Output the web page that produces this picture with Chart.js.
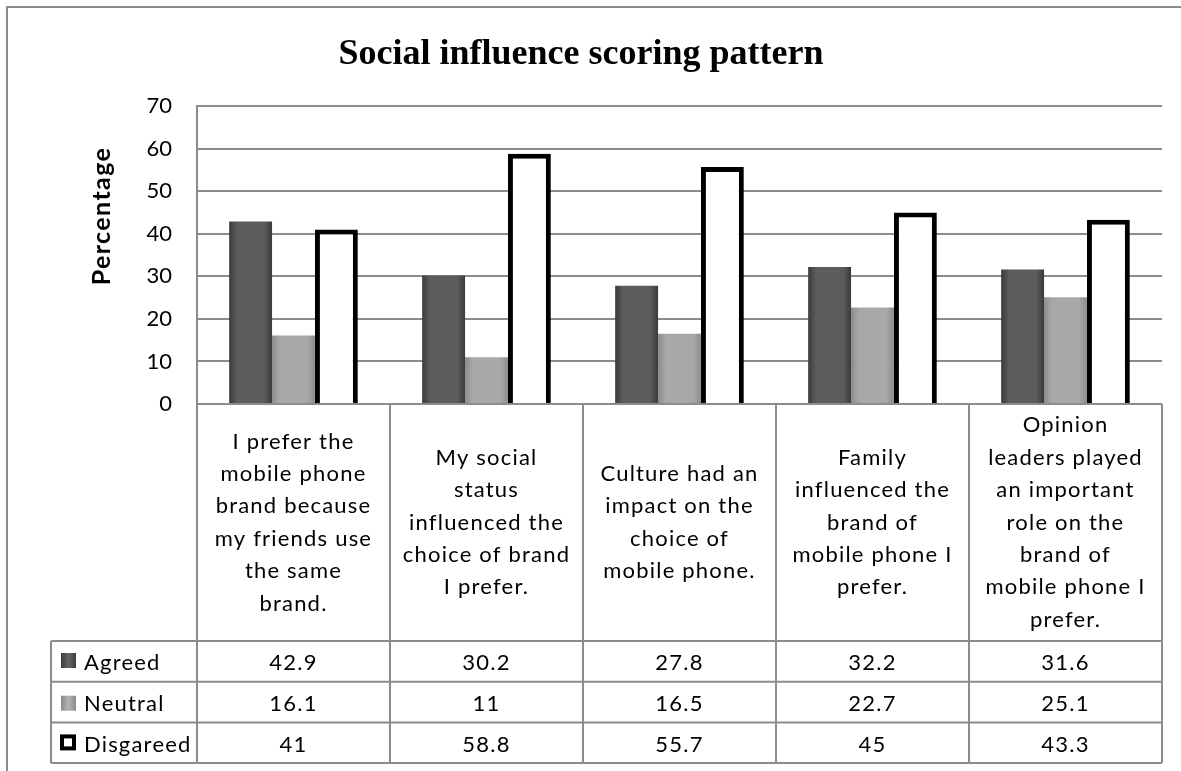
<!DOCTYPE html>
<html>
<head>
<meta charset="utf-8">
<script src="https://cdn.jsdelivr.net/npm/chart.js@4.4.0/dist/chart.umd.min.js"></script>
<style>
    html, body { margin: 0; padding: 0; background: #fff; }
    #chart-wrap { width: 1181px; height: 771px; }
</style>
</head>
<body>
<div id="chart-wrap"><canvas id="social-chart"></canvas></div>
<script>
// categories, already broken into the lines shown in the table header
const categories = [
    ['I prefer the', 'mobile phone', 'brand because', 'my friends use', 'the same', 'brand.'],
    ['My social', 'status', 'influenced the', 'choice of brand', 'I prefer.'],
    ['Culture had an', 'impact on the', 'choice of', 'mobile phone.'],
    ['Family', 'influenced the', 'brand of', 'mobile phone I', 'prefer.'],
    ['Opinion', 'leaders played', 'an important', 'role on the', 'brand of', 'mobile phone I', 'prefer.']
];
const seriesNames = ['Agreed', 'Neutral', 'Disgareed'];
const agreed = [42.9, 30.2, 27.8, 32.2, 31.6];
const neutral = [16.1, 11, 16.5, 22.7, 25.1];
const disagreed = [41, 58.8, 55.7, 45, 43.3];
const yMin = 0;
const yMax = 70;
const yStep = 10;

const CAT_PCT = 3 / 4.5;
const LINE_GREY = '#8c8c8c';
const FONT = 'Lato, "Open Sans", sans-serif';

// horizontal shading for the grey bars, worked out from the x scale
function barFill(context, edge, middle) {
    const chart = context.chart;
    const xs = chart.scales.x;
    if (!chart.chartArea || !xs || context.dataIndex === undefined) {
        return middle;
    }
    const cellW = (xs.right - xs.left) / categories.length;
    const barW = cellW * CAT_PCT / 3;
    const left = xs.getPixelForValue(context.dataIndex) - 1.5 * barW + context.datasetIndex * barW;
    const g = chart.ctx.createLinearGradient(left, 0, left + barW, 0);
    g.addColorStop(0, edge);
    g.addColorStop(0.18, middle);
    g.addColorStop(0.82, middle);
    g.addColorStop(1, edge);
    return g;
}

const dataTable = {
    id: 'dataTable',
    beforeDraw(chart) {
        const ctx = chart.ctx;
        ctx.save();
        ctx.fillStyle = '#fff';
        ctx.fillRect(0, 0, chart.width, chart.height);
        ctx.strokeStyle = LINE_GREY;
        ctx.lineWidth = 2;
        ctx.strokeRect(7, 7, chart.width + 20, chart.height + 20);
        ctx.restore();
    },
    afterDraw(chart) {
        const ctx = chart.ctx;
        const area = chart.chartArea;
        const xs = chart.scales.x;
        const n = categories.length;
        const cellW = (xs.right - xs.left) / n;
        const headTop = area.bottom;
        const headBottom = 641;
        const rowH = 40.7;
        const rows = [agreed, neutral, disagreed];
        const tableLeft = 51;
        const tableBottom = headBottom + rowH * rows.length;

        ctx.save();
        ctx.strokeStyle = LINE_GREY;
        ctx.lineWidth = 2;
        ctx.beginPath();
        // x axis line / top of table header
        ctx.moveTo(xs.left, headTop);
        ctx.lineTo(xs.right, headTop);
        for (let i = 0; i <= n; i++) {
            const x = xs.left + i * cellW;
            ctx.moveTo(x, headTop);
            ctx.lineTo(x, tableBottom);
        }
        for (let r = 0; r <= rows.length; r++) {
            const y = headBottom + r * rowH;
            ctx.moveTo(tableLeft, y);
            ctx.lineTo(xs.right, y);
        }
        ctx.moveTo(tableLeft, headBottom);
        ctx.lineTo(tableLeft, tableBottom);
        ctx.stroke();

        // category header text
        ctx.fillStyle = '#000';
        ctx.font = '22px ' + FONT;
        ctx.letterSpacing = '1.2px';
        ctx.textAlign = 'center';
        ctx.textBaseline = 'middle';
        const lineH = 32.4;
        const headMid = (headTop + headBottom) / 2;
        categories.forEach(function (lines, i) {
            const cx = xs.getPixelForValue(i);
            const first = headMid - (lines.length - 1) * lineH / 2;
            lines.forEach(function (line, k) {
                ctx.fillText(line, cx, first + k * lineH);
            });
        });

        // values and row labels
        rows.forEach(function (values, r) {
            const cy = headBottom + r * rowH + rowH / 2 + 2;
            ctx.textAlign = 'center';
            values.forEach(function (v, i) {
                ctx.fillText(String(v), xs.getPixelForValue(i), cy);
            });
            ctx.textAlign = 'left';
            ctx.fillText(seriesNames[r], 84, cy);
        });

        // legend keys
        const keyX = 61;
        const k0 = headBottom + 12;
        let g = ctx.createLinearGradient(keyX, 0, keyX + 15, 0);
        g.addColorStop(0, '#3c3c3c'); g.addColorStop(0.5, '#666'); g.addColorStop(1, '#3c3c3c');
        ctx.fillStyle = g;
        ctx.fillRect(keyX, k0, 15, 15);
        g = ctx.createLinearGradient(keyX, 0, keyX + 15, 0);
        g.addColorStop(0, '#8a8a8a'); g.addColorStop(0.5, '#b4b4b4'); g.addColorStop(1, '#8a8a8a');
        ctx.fillStyle = g;
        ctx.fillRect(keyX, k0 + rowH + 2, 15, 15);
        ctx.fillStyle = '#fff';
        ctx.fillRect(keyX - 1, k0 + 2 * rowH, 16, 16);
        ctx.strokeStyle = '#000';
        ctx.lineWidth = 4;
        ctx.strokeRect(keyX + 1, k0 + 2 * rowH + 2, 12, 12);

        // y axis title
        ctx.translate(102, 216);
        ctx.rotate(-Math.PI / 2);
        ctx.font = 'bold 25px ' + FONT;
        ctx.letterSpacing = '1.4px';
        ctx.textAlign = 'center';
        ctx.fillStyle = '#000';
        ctx.fillText('Percentage', 0, 0);
        ctx.restore();
    }
};

function drawChart() {
    const chart = new Chart(document.getElementById('social-chart'), {
        type: 'bar',
        data: {
            labels: categories,
            datasets: [{
                label: seriesNames[0],
                data: agreed,
                backgroundColor: function (c) { return barFill(c, '#3a3a3a', '#5c5c5c'); },
                borderWidth: 0
            }, {
                label: seriesNames[1],
                data: neutral,
                backgroundColor: function (c) { return barFill(c, '#8c8c8c', '#a8a8a8'); },
                borderWidth: 0
            }, {
                label: seriesNames[2],
                data: disagreed,
                backgroundColor: '#ffffff',
                borderColor: '#000000',
                borderWidth: 5,
                borderSkipped: 'bottom'
            }]
        },
        options: {
            responsive: true,
            maintainAspectRatio: false,
            animation: false,
            categoryPercentage: CAT_PCT,
            barPercentage: 1,
            layout: {
                padding: { top: 0, right: 19, bottom: 0, left: 0 }
            },
            plugins: {
                legend: { display: false },
                tooltip: { enabled: false },
                title: {
                    display: true,
                    text: 'Social influence scoring pattern',
                    color: '#000',
                    font: { family: '"Liberation Serif", serif', size: 36, weight: 'bold' },
                    padding: { top: 33, bottom: 30 }
                }
            },
            scales: {
                x: {
                    ticks: { display: false },
                    grid: { display: false },
                    border: { display: false },
                    afterFit: function (scale) { scale.height = 771 - 404; }
                },
                y: {
                    min: yMin,
                    max: yMax,
                    ticks: {
                        stepSize: yStep,
                        padding: 25,
                        color: '#000',
                        font: { family: FONT, size: 22 }
                    },
                    grid: {
                        color: LINE_GREY,
                        lineWidth: 2,
                        drawTicks: false
                    },
                    border: { display: true, color: LINE_GREY, width: 2 },
                    afterFit: function (scale) { scale.width = 197; }
                }
            }
        },
        plugins: [dataTable]
    });
    return chart;
}

drawChart();
</script>
</body>
</html>
